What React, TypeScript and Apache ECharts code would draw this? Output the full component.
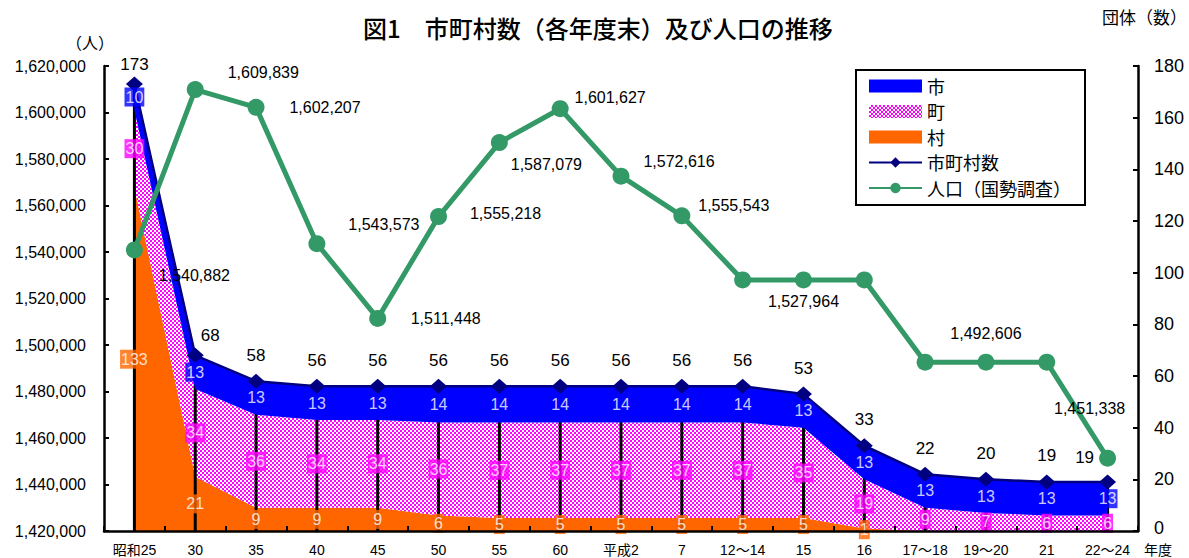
import React, { useEffect, useRef } from "react";
import * as echarts from "echarts";

// ---- data ----
const categories = ["昭和25", "30", "35", "40", "45", "50", "55", "60", "平成2", "7", "12～14", "15", "16", "17～18", "19～20", "21", "22～24"];
const cities = [10, 13, 13, 13, 13, 14, 14, 14, 14, 14, 14, 13, 13, 13, 13, 13, 13];
const towns = [30, 34, 36, 34, 34, 36, 37, 37, 37, 37, 37, 35, 19, 9, 7, 6, 6];
const villages = [133, 21, 9, 9, 9, 6, 5, 5, 5, 5, 5, 5, 1, 0, 0, 0, 0];
const totals = [173, 68, 58, 56, 56, 56, 56, 56, 56, 56, 56, 53, 33, 22, 20, 19, 19];
const population = [1540882, 1609839, 1602207, 1543573, 1511448, 1555218, 1587079, 1601627, 1572616, 1555543, 1527964, 1527964, 1527964, 1492606, 1492606, 1492606, 1451338];
const populationLabelIdx = [0, 1, 2, 3, 4, 5, 6, 7, 8, 9, 11, 14, 16];
const leftTicks = { min: 1420000, max: 1620000, interval: 20000 };
const rightTicks = { min: 0, max: 180, interval: 20 };

// ---- label placement (layout, not data) ----
const popLabelOffsets: Record<number, [number, number]> = {
  0: [60, 26], 1: [68, -17], 2: [69, 0], 3: [67, -19], 4: [68, 0], 5: [67, -3],
  6: [47, 22], 7: [50, -11], 8: [58, -15], 9: [52, -10], 11: [0, 22], 14: [0, -29], 16: [-18, -50],
};

const FONT = "'Liberation Sans', Arial, 'Noto Sans CJK JP', sans-serif";
const JP = "'Noto Sans CJK JP', sans-serif";
const BLUE = "#0000FF";
const MAGENTA = "#FF00FF";
const ORANGE = "#FF6600";
const NAVY = "#000080";
const GREEN = "#339966";

export default function App() {
  const ref = useRef<HTMLDivElement>(null);
  useEffect(() => {
    document.body.style.margin = "0";
    if (!ref.current) return;
    const chart = echarts.init(ref.current, null, { renderer: "svg" });

    const cv = document.createElement("canvas");
    cv.width = 4;
    cv.height = 4;
    const g = cv.getContext("2d")!;
    g.fillStyle = MAGENTA;
    g.fillRect(0, 0, 4, 4);
    g.fillStyle = "#FFFFFF";
    g.fillRect(0, 0, 2, 2);
    g.fillRect(2, 2, 2, 2);
    const pattern: any = { image: cv, repeat: "repeat" };

    const bandLabel = (vals: number[], base: number[], bg: string, name: string) => ({
      name,
      type: "scatter",
      yAxisIndex: 1,
      symbolSize: 0,
      silent: true,
      z: 10,
      data: vals
        .map((v, i) => (v > 0 ? [i, base[i] + v / 2, v] : null))
        .filter((d) => d !== null),
      label: {
        show: true,
        position: "inside",
        formatter: (p: any) => String(p.data[2]),
        color: "#FFFFFF",
        fontSize: 16,
        fontFamily: FONT,
        backgroundColor: bg,
        padding: [2, 1, 1, 1],
      },
    });

    const zeros = villages.map(() => 0);
    const villTown = villages.map((v, i) => v + towns[i]);

    const option: any = {
      animation: false,
      backgroundColor: "#FFFFFF",
      textStyle: { fontFamily: FONT },
      title: {
        text: "図1　市町村数（各年度末）及び人口の推移",
        left: 358,
        top: 10,
        textStyle: { fontSize: 24, fontWeight: 500, color: "#000", fontFamily: JP },
      },
      graphic: [
        { type: "text", left: 66, top: 34, style: { text: "（人）", fill: "#000", font: "16px 'Noto Sans CJK JP'" } },
        { type: "text", left: 1102, top: 8, style: { text: "団体（数）", fill: "#000", font: "17px 'Noto Sans CJK JP'" } },
        {
          type: "text",
          x: 1144,
          y: 549,
          style: { text: "年度", fill: "#000", font: "14px 'Noto Sans CJK JP'", verticalAlign: "middle", align: "left" },
        },
      ],
      legend: {
        orient: "vertical",
        left: 856,
        top: 70,
        selectedMode: false,
        backgroundColor: "#FFFFFF",
        borderColor: "#000",
        borderWidth: 2,
        padding: [7, 14, 8, 12],
        itemWidth: 53,
        itemHeight: 13,
        itemGap: 7.5,
        textStyle: { fontSize: 18, color: "#000", fontFamily: JP },
        z: 20,
        data: [
          { name: "市", icon: "rect", itemStyle: { color: BLUE } },
          { name: "町", icon: "rect", itemStyle: { color: pattern } },
          { name: "村", icon: "rect", itemStyle: { color: ORANGE } },
          { name: "市町村数" },
          { name: "人口（国勢調査）" },
        ],
      },
      grid: { left: 104, right: 51, top: 66, bottom: 27, containLabel: false },
      xAxis: {
        type: "category",
        data: categories,
        boundaryGap: true,
        axisLine: { lineStyle: { color: "#000", width: 2.5 } },
        axisTick: { show: true, inside: true, length: 5, lineStyle: { color: "#000", width: 2 } },
        axisLabel: { color: "#000", fontSize: 14, margin: 12, interval: 0, fontFamily: FONT },
        z: 15,
      },
      yAxis: [
        {
          type: "value",
          ...leftTicks,
          position: "left",
          axisLine: { show: true, lineStyle: { color: "#000", width: 2.5 } },
          axisTick: { show: true, inside: true, length: 5, lineStyle: { color: "#000", width: 2 } },
          axisLabel: {
            color: "#000",
            fontSize: 16,
            margin: 18,
            fontFamily: FONT,
            formatter: (v: number) => v.toLocaleString("en-US"),
          },
          splitLine: { show: false },
          z: 15,
        },
        {
          type: "value",
          ...rightTicks,
          position: "right",
          axisLine: { show: true, lineStyle: { color: "#000", width: 2.5 } },
          axisTick: { show: true, inside: true, length: 5, lineStyle: { color: "#000", width: 2 } },
          axisLabel: {
            color: "#000",
            fontSize: 18,
            margin: 16,
            fontFamily: FONT,
            formatter: (v: number) => (v === 0 ? "{z|0}" : String(v)),
            rich: { z: { fontSize: 18, color: "#000", fontFamily: FONT, padding: [0, 0, 6, 0] } },
          },
          splitLine: { show: false },
          z: 15,
        },
      ],
      series: [
        {
          name: "村",
          type: "line",
          yAxisIndex: 1,
          stack: "m",
          data: villages,
          symbol: "none",
          lineStyle: { width: 0 },
          itemStyle: { color: ORANGE },
          areaStyle: { color: ORANGE, opacity: 1 },
          z: 1,
        },
        {
          name: "町",
          type: "line",
          yAxisIndex: 1,
          stack: "m",
          data: towns,
          symbol: "none",
          lineStyle: { width: 0 },
          itemStyle: { color: MAGENTA },
          areaStyle: { color: pattern, opacity: 1 },
          z: 1,
        },
        {
          name: "drop",
          type: "bar",
          yAxisIndex: 1,
          data: totals,
          barWidth: 3,
          itemStyle: { color: "#000" },
          silent: true,
          z: 2,
        },
        {
          name: "市",
          type: "line",
          yAxisIndex: 1,
          stack: "m",
          data: cities,
          symbol: "none",
          lineStyle: { width: 0 },
          itemStyle: { color: BLUE },
          areaStyle: { color: BLUE, opacity: 1 },
          z: 3,
        },
        {
          name: "市町村数",
          type: "line",
          yAxisIndex: 1,
          data: totals.map((v, i) => {
            const item: any = { value: v };
            if (i === 0) item.label = { distance: 4 };
            if (i === 1) item.label = { offset: [15, 6] };
            if (i === totals.length - 1) item.label = { offset: [-23, 2] };
            return item;
          }),
          symbol: "diamond",
          symbolSize: [17, 15],
          lineStyle: { color: NAVY, width: 2.5 },
          itemStyle: { color: NAVY },
          label: { show: true, position: "top", distance: 10, color: "#000", fontSize: 17, fontFamily: FONT },
          z: 4,
        },
        {
          name: "人口（国勢調査）",
          type: "line",
          yAxisIndex: 0,
          data: population.map((v, i) => {
            const off = popLabelOffsets[i];
            if (populationLabelIdx.includes(i) && off) {
              return { value: v, label: { show: true, position: "inside", offset: off } };
            }
            return { value: v };
          }),
          symbol: "circle",
          symbolSize: 17,
          lineStyle: { color: GREEN, width: 5 },
          itemStyle: { color: GREEN },
          label: {
            show: false,
            color: "#000",
            fontSize: 16,
            fontFamily: FONT,
            formatter: (p: any) => Number(p.value).toLocaleString("en-US"),
          },
          z: 5,
        },
        bandLabel(villages, zeros, ORANGE, "lbl-v"),
        bandLabel(towns, villages, MAGENTA, "lbl-t"),
        bandLabel(cities, villTown, BLUE, "lbl-c"),
      ],
    };
    chart.setOption(option);
    return () => chart.dispose();
  }, []);
  return <div ref={ref} style={{ width: 1189, height: 558 }} />;
}
